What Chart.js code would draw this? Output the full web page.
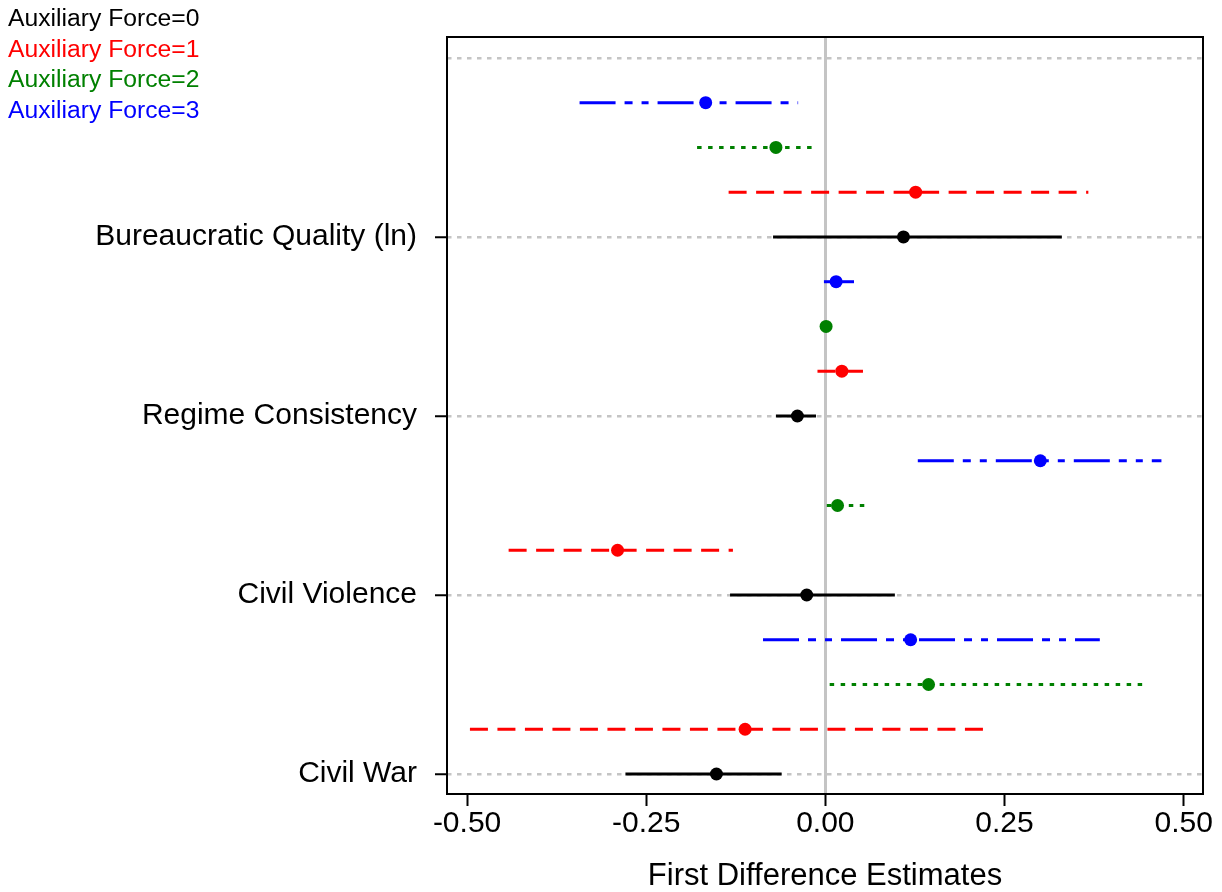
<!DOCTYPE html>
<html>
<head>
<meta charset="utf-8">
<script src="https://cdn.jsdelivr.net/npm/chart.js@4/dist/chart.umd.min.js"></script>
<style>
  body { margin: 0; background: #fff; }
  #wrap { position: relative; width: 1222px; height: 892px; }
  #legend { position: absolute; left: 8px; top: 3px; font-family: 'Liberation Sans', Arial, sans-serif; font-size: 24.7px; line-height: 30.5px; }
</style>
</head>
<body>
<div id="wrap">
  <canvas id="fdChart" width="1222" height="892"></canvas>
  <div id="legend"></div>
</div>
<script>
// DONNÉES
const categories = ['Civil War', 'Civil Violence', 'Regime Consistency', 'Bureaucratic Quality (ln)'];
const seriesNames = ['Auxiliary Force=0', 'Auxiliary Force=1', 'Auxiliary Force=2', 'Auxiliary Force=3'];
const xTicks = [-0.5, -0.25, 0, 0.25, 0.5];

// point estimates + bounds, same order as categories
const af0Est  = [-0.152, -0.026, -0.039,  0.109];
const af0Low  = [-0.279, -0.133, -0.069, -0.073];
const af0High = [-0.061,  0.097, -0.013,  0.330];

const af1Est  = [-0.112, -0.290,  0.023,  0.126];
const af1Low  = [-0.496, -0.442, -0.011, -0.135];
const af1High = [ 0.225, -0.129,  0.057,  0.367];

const af2Est  = [ 0.144,  0.017,  0.001, -0.069];
const af2Low  = [ 0.006,  0.002, -0.002, -0.179];
const af2High = [ 0.444,  0.055,  0.004, -0.013];

const af3Est  = [ 0.119,  0.300,  0.015, -0.167];
const af3Low  = [-0.087,  0.129, -0.002, -0.343];
const af3High = [ 0.383,  0.469,  0.040, -0.038];

// STYLES
const colors = ['#000000', '#ff0000', '#008000', '#0000ff'];
const dashes = [[], [18, 9.5], [4.5, 6.5], [36, 9, 8, 9, 7, 9]];
const rowStep = 0.25;

const series = [
    { est: af0Est, low: af0Low, high: af0High },
    { est: af1Est, low: af1Low, high: af1High },
    { est: af2Est, low: af2Low, high: af2High },
    { est: af3Est, low: af3Low, high: af3High }
];

Chart.defaults.font.family = "'Liberation Sans', Arial, sans-serif";
Chart.defaults.color = '#000';

// CONSTRUCTION DES DATASETS
const datasets = [];
series.forEach((s, si) => {
    categories.forEach((c, ci) => {
        const y = ci + si * rowStep;
        datasets.push({
            data: [{ x: s.low[ci], y: y }, { x: s.high[ci], y: y }],
            showLine: true,
            borderColor: colors[si],
            borderWidth: 3,
            borderDash: dashes[si],
            pointRadius: 0,
            order: 2
        });
    });
    datasets.push({
        data: s.est.map((v, ci) => ({ x: v, y: ci + si * rowStep })),
        showLine: false,
        backgroundColor: colors[si],
        borderColor: colors[si],
        pointRadius: 6.5,
        pointBorderWidth: 0,
        order: 1
    });
});

// cadre autour de la zone du graphique
const framePlugin = {
    id: 'frame',
    afterDraw(chart) {
        const { ctx, chartArea: a } = chart;
        ctx.save();
        ctx.strokeStyle = '#000';
        ctx.lineWidth = 2;
        ctx.strokeRect(a.left, a.top, a.right - a.left, a.bottom - a.top);
        ctx.restore();
    }
};

new Chart(document.getElementById('fdChart'), {
    type: 'scatter',
    data: { datasets: datasets },
    plugins: [framePlugin],
    options: {
        responsive: false,
        animation: false,
        layout: { padding: { top: 37, right: 19, left: 0, bottom: 0 } },
        plugins: { legend: { display: false }, tooltip: { enabled: false } },
        scales: {
            x: {
                type: 'linear',
                min: -0.528,
                max: 0.527,
                afterBuildTicks: scale => { scale.ticks = xTicks.map(v => ({ value: v })); },
                afterFit: scale => { scale.height = 98; },
                ticks: { font: { size: 30 }, padding: 0, callback: v => v.toFixed(2) },
                grid: {
                    color: ctx => (ctx.tick && ctx.tick.value === 0) ? '#c4c4c4' : 'rgba(0,0,0,0)',
                    lineWidth: 3,
                    tickColor: '#000',
                    tickWidth: 2,
                    tickLength: 12
                },
                border: { display: false },
                title: { display: true, text: 'First Difference Estimates', font: { size: 31, lineHeight: 1 }, padding: 0 }
            },
            y: {
                type: 'linear',
                min: -0.1117,
                max: 4.117,
                afterBuildTicks: scale => { scale.ticks = [0, 1, 2, 3, 4].map(v => ({ value: v })); },
                afterFit: scale => { scale.width = 447; },
                ticks: { font: { size: 30 }, padding: 18, callback: v => categories[v] || '' },
                grid: {
                    color: '#c4c4c4',
                    lineWidth: 2.5,
                    tickColor: ctx => (ctx.tick && ctx.tick.value < 4) ? '#000' : 'rgba(0,0,0,0)',
                    tickWidth: 2,
                    tickLength: 12,
                    tickBorderDash: []
                },
                border: { display: false, dash: [4.5, 5.5] }
            }
        }
    }
});

// LÉGENDE (texte coloré en haut à gauche)
document.getElementById('legend').innerHTML = seriesNames
    .map((n, i) => `<div style="color:${colors[i]}">${n}</div>`).join('');
</script>
</body>
</html>
